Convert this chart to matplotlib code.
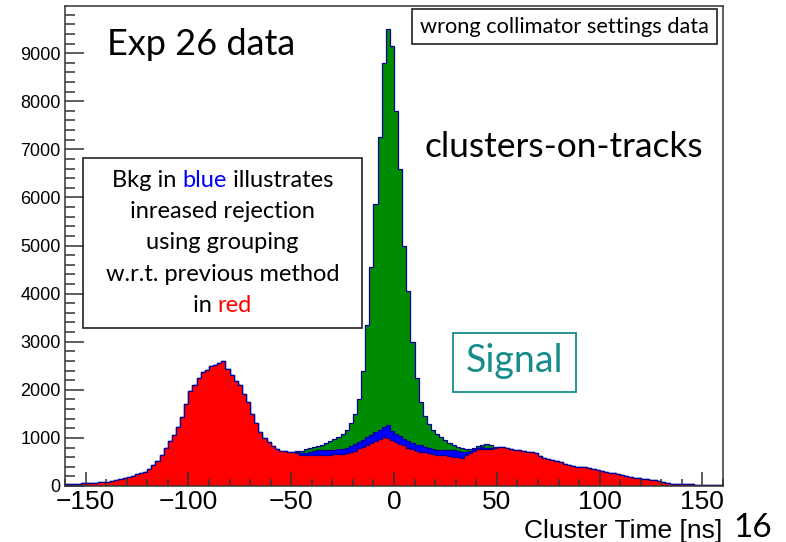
import numpy as np
import matplotlib.pyplot as plt
from matplotlib.patches import Rectangle

# 2 ns bins from -160 to 160 ns
bin_edges = np.arange(-160, 161, 2)

# previous method background (red), every bin
red_counts = [
    40, 45, 45, 50, 55, 55, 60, 65, 75, 85,
    90, 100, 120, 140, 160, 180, 200, 240, 275, 300,
    350, 430, 520, 640, 790, 930, 1060, 1230, 1440, 1700,
    1980, 2100, 2240, 2360, 2420, 2490, 2510, 2560, 2590, 2440,
    2300, 2190, 2090, 1920, 1740, 1500, 1300, 1130, 1000, 910,
    830, 770, 730, 720, 715,
    # -49 .. 49
    705, 680, 650, 640, 645, 650, 645, 640, 650, 640,
    660, 670, 670, 685, 700, 730, 780, 820, 860, 900,
    940, 980, 1010, 990, 960, 920, 880, 850, 800, 760,
    730, 715, 700, 680, 665, 650, 645, 640, 620, 610,
    600, 590, 640, 690, 720, 770, 760, 760, 760, 790,
    # 51 .. 159
    810, 805, 800, 760, 745, 740, 730, 715, 700, 680,
    630, 590, 570, 545, 520, 490, 460, 440, 420, 405,
    395, 385, 370, 350, 340, 320, 300, 280, 260, 240,
    225, 210, 195, 175, 160, 150, 140, 130, 115, 95,
    75, 60, 50, 45, 40, 38, 35, 32, 30, 28,
    25, 24, 22, 20, 20,
]

# grouping background (blue) and all clusters (green) for -50 .. 50 ns;
# outside that window both equal the red histogram
blue_core = [
    710, 700, 690, 690, 700, 720, 740, 750, 745, 750,
    755, 760, 775, 790, 830, 870, 915, 960, 1010, 1070,
    1130, 1170, 1220, 1270, 1150, 1080, 1030, 980, 930, 890,
    860, 845, 820, 790, 770, 755, 750, 750, 745, 740,
    725, 715, 710, 720, 760, 800, 810, 800, 790, 795,
]
green_core = [
    715, 720, 730, 760, 780, 815, 840, 860, 900, 930,
    980, 1020, 1080, 1170, 1300, 1500, 1800, 2400, 3350, 4550,
    5870, 7250, 8800, 9500, 9150, 7800, 6600, 5000, 4050, 3000,
    2250, 1750, 1460, 1290, 1165, 1080, 1010, 950, 890, 850,
    810, 790, 770, 760, 800, 840, 860, 870, 860, 820,
]
core_start = 55

x_ticks = [-150, -100, -50, 0, 50, 100, 150]
y_ticks = list(range(0, 10000, 1000))

W, H = 786, 542
fig = plt.figure(figsize=(W / 100, H / 100), dpi=100)
renderer = fig.canvas.get_renderer()


def px(x, y):
    return x / W, 1 - y / H


ax = fig.add_axes([65 / W, (H - 486) / H, (723 - 65) / W, (486 - 6) / H])

red = np.array(red_counts, float)
blue = red.copy()
blue[core_start:core_start + len(blue_core)] = blue_core
green = red.copy()
green[core_start:core_start + len(green_core)] = green_core

navy = '#000099'
for vals, col in [(green, '#008c00'), (blue, '#0000ff'), (red, '#ff0000')]:
    ax.stairs(vals, bin_edges, fill=True, color=col, lw=0)
    ax.stairs(vals, bin_edges, color=navy, lw=0.9)

ax.set_xlim(-160, 160)
ax.set_ylim(0, 9980)
ax.set_xticks(x_ticks)
ax.set_xticklabels([str(v).replace('-', '\u2212') for v in x_ticks])
ax.set_xticks(np.arange(-160, 161, 10), minor=True)
ax.set_yticks(y_ticks)
ax.set_yticks(np.arange(0, 9980, 200), minor=True)
ax.set_axisbelow(False)
ax.tick_params(axis='x', which='major', direction='in', length=10, width=1.1,
               color='#333333', labelsize=19, pad=3)
ax.tick_params(axis='x', which='minor', direction='in', length=5, width=1.1,
               color='#333333')
ax.tick_params(axis='y', which='major', direction='in', length=14, width=1.1,
               color='#333333', labelsize=13, pad=3)
ax.tick_params(axis='y', which='minor', direction='in', length=7, width=1.1,
               color='#333333')
for lab in ax.get_xticklabels() + ax.get_yticklabels():
    lab.set_family('Liberation Sans')
for sp in ax.spines.values():
    sp.set_color('#333333')
    sp.set_linewidth(1.1)

fig.text(*px(722, 538), 'Cluster Time [ns]', family='Liberation Sans',
         fontsize=19, ha='right', va='baseline')
fig.text(*px(733, 537), '16', family='Lato', fontsize=24, ha='left', va='baseline')

fig.text(*px(107, 55), 'Exp 26 data', family='Lato', fontsize=26, va='baseline')
fig.text(*px(425, 157), 'clusters-on-tracks', family='Lato', fontsize=25.4,
         va='baseline')

# header box
fig.add_artist(Rectangle(px(412, 44), 305 / W, 35 / H, transform=fig.transFigure,
                         fill=False, ec='#222222', lw=1.2))
fig.text(*px(564, 27), 'wrong collimator settings data', family='Lato',
         fontsize=15.7, ha='center', va='center')

# signal label
teal = '#178c8c'
fig.add_artist(Rectangle(px(453, 392), 123 / W, 59 / H, transform=fig.transFigure,
                         fill=False, ec=teal, lw=1.3))
fig.text(*px(515, 372), 'Signal', family='Lato', fontsize=27, color=teal,
         ha='center', va='baseline')

# explanation box with coloured words
fig.add_artist(Rectangle(px(83, 328), 279 / W, 170 / H, transform=fig.transFigure,
                         fill=False, ec='#222222', lw=1.2, facecolor='white'))


def text_width(s, size):
    t = fig.text(0, 0, s, family='Lato', fontsize=size)
    w = t.get_window_extent(renderer).width
    t.remove()
    return w


def centered_line(xc, yb, parts, size=17):
    full = ''.join(p for p, _ in parts)
    x0 = xc - text_width(full, size) / 2
    bar = text_width('|', size)
    prefix = ''
    for piece, col in parts:
        off = text_width(prefix + '|', size) - bar if prefix else 0
        fig.text(*px(x0 + off, yb), piece, family='Lato', fontsize=size,
                 color=col, va='baseline', ha='left')
        prefix += piece


box_lines = [
    [('Bkg in ', 'black'), ('blue', '#0000ff'), (' illustrates', 'black')],
    [('inreased rejection', 'black')],
    [('using grouping', 'black')],
    [('w.r.t. previous method', 'black')],
    [('in ', 'black'), ('red', '#ff0000')],
]
for i, parts in enumerate(box_lines):
    centered_line(222.5, 187 + 31.2 * i, parts)

fig.savefig('out.png', dpi=100)
